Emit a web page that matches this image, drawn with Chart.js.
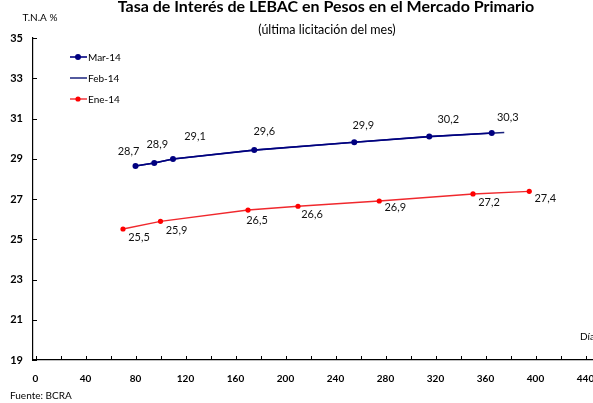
<!DOCTYPE html>
<html>
<head>
<meta charset="utf-8">
<script src="https://cdn.jsdelivr.net/npm/chart.js@4.4.1/dist/chart.umd.min.js"></script>
<style>
    html, body { margin: 0; padding: 0; background: #fff; }
    #wrap { width: 593px; height: 403px; position: relative; }
</style>
</head>
<body>
<div id="wrap"><canvas id="chart"></canvas></div>
<script>
(function () {
    'use strict';

    const FONT = 'Lato, "Open Sans", sans-serif';

    // Mar-14 (days to maturity / rate)
    const marDays = [80, 95, 110, 175, 255, 315, 365];
    const marRate = [28.64, 28.79, 28.99, 29.43, 29.82, 30.10, 30.28];
    const marLabels = ['28,7', '28,9', '29,1', '29,6', '29,9', '30,2', '30,3'];

    // Feb-14
    const febDays = [80, 95, 110, 175, 255, 315, 375];
    const febRate = [28.64, 28.79, 28.99, 29.43, 29.82, 30.10, 30.31];

    // Ene-14
    const eneDays = [70, 100, 170, 210, 275, 350, 395];
    const eneRate = [25.51, 25.89, 26.45, 26.64, 26.90, 27.25, 27.38];
    const eneLabels = ['25,5', '25,9', '26,5', '26,6', '26,9', '27,2', '27,4'];

    const xTicks = [0, 20, 40, 60, 80, 100, 120, 140, 160, 180, 200, 220, 240, 260, 280, 300, 320, 340, 360, 380, 400, 420, 440];
    const yTicks = [19, 21, 23, 25, 27, 29, 31, 33, 35];

    // label placement relative to each point (dx, dy of text centre)
    const marShift = [[-7, -15], [3, -19], [22, -22], [10, -19], [9, -17], [19, -17], [16, -16]];
    const eneShift = [[16, 8], [16, 9], [9, 10], [14, 8], [16, 6], [16, 8], [16, 7]];

    function pts(xs, ys) {
        return xs.map(function (x, i) { return { x: x, y: ys[i] }; });
    }

    const decorations = {
        id: 'decorations',
        afterDraw: function (chart) {
            const ctx = chart.ctx;
            const xs = chart.scales.x;
            const ys = chart.scales.y;
            const area = chart.chartArea;
            ctx.save();

            // inward tick marks
            ctx.strokeStyle = '#000';
            ctx.lineWidth = 1;
            ctx.beginPath();
            xTicks.forEach(function (v) {
                const px = Math.round(xs.getPixelForValue(v)) + 0.5;
                ctx.moveTo(px, area.bottom);
                ctx.lineTo(px, area.bottom - 4);
            });
            yTicks.forEach(function (v) {
                const py = Math.round(ys.getPixelForValue(v)) + 0.5;
                ctx.moveTo(area.left, py);
                ctx.lineTo(area.left + 4, py);
            });
            ctx.stroke();

            // titles and notes
            ctx.fillStyle = '#000';
            ctx.textBaseline = 'middle';
            ctx.textAlign = 'center';
            ctx.font = 'bold 16px ' + FONT;
            ctx.fillText('Tasa de Interés de LEBAC en Pesos en el Mercado Primario', 326, 7);
            ctx.font = '12.5px ' + FONT;
            ctx.fillText('(última licitación del mes)', 327, 30);
            ctx.font = '10px ' + FONT;
            ctx.fillText('T.N.A %', 40, 18);
            ctx.textAlign = 'left';
            ctx.fillText('Fuente: BCRA', 10, 396);
            ctx.fillText('Día', 580, 337);

            // legend
            chart.data.datasets.forEach(function (ds, i) {
                const y = 57 + i * 21;
                ctx.strokeStyle = ds.borderColor;
                ctx.lineWidth = ds.borderWidth;
                ctx.beginPath();
                ctx.moveTo(70, y);
                ctx.lineTo(87, y);
                ctx.stroke();
                if (ds.pointRadius > 0) {
                    ctx.fillStyle = ds.pointBackgroundColor;
                    ctx.beginPath();
                    ctx.arc(78, y, ds.pointRadius, 0, Math.PI * 2);
                    ctx.fill();
                }
                ctx.fillStyle = '#000';
                ctx.font = '10px ' + FONT;
                ctx.textAlign = 'left';
                ctx.fillText(ds.label, 88, y + 1);
            });

            // data labels
            ctx.font = '11px ' + FONT;
            ctx.fillStyle = '#111';
            ctx.textAlign = 'center';
            [[0, marLabels, marShift], [2, eneLabels, eneShift]].forEach(function (cfg) {
                const meta = chart.getDatasetMeta(cfg[0]);
                meta.data.forEach(function (el, j) {
                    ctx.fillText(cfg[1][j], el.x + cfg[2][j][0], el.y + cfg[2][j][1]);
                });
            });

            ctx.restore();
        },
    };

    new Chart(document.getElementById('chart'), {
        type: 'scatter',
        data: {
            datasets: [{
                label: 'Mar-14',
                data: pts(marDays, marRate),
                showLine: true,
                borderColor: '#000080',
                backgroundColor: '#000080',
                pointBackgroundColor: '#000080',
                pointBorderWidth: 0,
                pointRadius: 3,
                borderWidth: 1.6,
                tension: 0,
            }, {
                label: 'Feb-14',
                data: pts(febDays, febRate),
                showLine: true,
                borderColor: '#1a237e',
                backgroundColor: '#1a237e',
                pointRadius: 0,
                borderWidth: 1.5,
                tension: 0,
            }, {
                label: 'Ene-14',
                data: pts(eneDays, eneRate),
                showLine: true,
                borderColor: '#f0282d',
                backgroundColor: '#ff0000',
                pointBackgroundColor: '#ff0000',
                pointBorderWidth: 0,
                pointRadius: 2.6,
                borderWidth: 1.4,
                tension: 0,
            }],
        },
        options: {
            responsive: true,
            maintainAspectRatio: false,
            animation: false,
            layout: { autoPadding: false, padding: { top: 38, left: 0, right: 0, bottom: 0 } },
            plugins: {
                legend: { display: false },
                tooltip: { enabled: false },
                title: { display: false },
            },
            scales: {
                x: {
                    type: 'linear',
                    min: -2,
                    max: 446,
                    grid: { display: false, drawTicks: false },
                    border: { display: true, color: '#000', width: 1.2 },
                    afterBuildTicks: function (scale) {
                        scale.ticks = xTicks.map(function (v) { return { value: v }; });
                    },
                    afterFit: function (scale) {
                        scale.height = 43;
                        scale.paddingLeft = 0;
                        scale.paddingRight = 0;
                    },
                    ticks: {
                        autoSkip: false,
                        maxRotation: 0,
                        padding: 13,
                        color: '#000',
                        font: { family: FONT, size: 10, weight: 'bold' },
                        callback: function (v) { return v % 40 === 0 ? String(v) : ''; },
                    },
                },
                y: {
                    min: 19,
                    max: 35,
                    grid: { display: false, drawTicks: false },
                    border: { display: true, color: '#000', width: 1.2 },
                    afterBuildTicks: function (scale) {
                        scale.ticks = yTicks.map(function (v) { return { value: v }; });
                    },
                    afterFit: function (scale) {
                        scale.width = 33;
                        scale.paddingTop = 0;
                        scale.paddingBottom = 0;
                    },
                    ticks: {
                        padding: 10,
                        color: '#000',
                        font: { family: FONT, size: 11, weight: 'bold' },
                    },
                },
            },
        },
        plugins: [decorations],
    });
})();
</script>
</body>
</html>
